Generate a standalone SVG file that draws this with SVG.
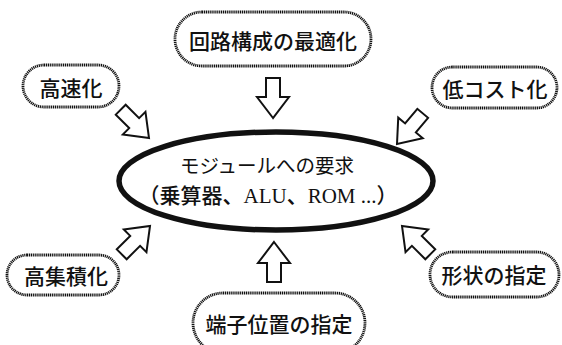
<svg xmlns="http://www.w3.org/2000/svg" width="562" height="345" viewBox="0 0 562 345">
<style>
.box{fill:#fff;stroke:#111;stroke-width:2.8;stroke-dasharray:1.2 0.7}
.lbl{font-family:"Noto Sans CJK JP",sans-serif;font-size:21px;font-weight:500;fill:#111;text-anchor:middle;dominant-baseline:central}
.arr{fill:#fff;stroke:#111;stroke-width:2;stroke-linejoin:miter}
.core{fill:#fff;stroke:#111;stroke-width:5.5}
.ctext{font-family:"Liberation Serif","Noto Sans CJK JP",serif;fill:#111;text-anchor:middle;dominant-baseline:central}
</style>
<defs>
<path id="ar" d="M0,0 L-16,-21 L-7,-21 L-7,-40 L7,-40 L7,-21 L16,-21 Z"/>
</defs>
<rect width="562" height="345" fill="#fff"/>
<g id="connectors">
<use href="#ar" class="arr" transform="translate(273,118)"/>
<use href="#ar" class="arr" transform="translate(274,242) rotate(180)"/>
<use href="#ar" class="arr" transform="translate(149,138) rotate(-45)"/>
<use href="#ar" class="arr" transform="translate(397,144) rotate(40)"/>
<use href="#ar" class="arr" transform="translate(150,226) rotate(-135)"/>
<use href="#ar" class="arr" transform="translate(402,226) rotate(135)"/>
</g>
<g id="center">
<ellipse class="core" cx="276" cy="181" rx="157" ry="49"/>
<text class="ctext" x="267" y="166" font-size="19.5" font-weight="400" font-family="Noto Sans CJK JP, sans-serif">モジュールへの要求</text>
<text class="ctext" x="268" y="196" font-size="21" font-weight="500">（乗算器、ALU、ROM ...）</text>
</g>
<g id="n-top">
<rect class="box" x="175" y="12" width="196" height="54" rx="27"/>
<text class="lbl" x="273" y="40">回路構成の最適化</text>
</g>
<g id="n-speed">
<rect class="box" x="23" y="65" width="96" height="42" rx="21"/>
<text class="lbl" x="71" y="87" font-size="22">高速化</text>
</g>
<g id="n-cost">
<rect class="box" x="432" y="67" width="125" height="41" rx="20.5"/>
<text class="lbl" x="495" y="88">低コスト化</text>
</g>
<g id="n-integ">
<rect class="box" x="7" y="255" width="112" height="40" rx="20"/>
<text class="lbl" x="66" y="275">高集積化</text>
</g>
<g id="n-shape">
<rect class="box" x="430" y="252" width="129" height="45" rx="22.5"/>
<text class="lbl" x="494" y="274" font-size="22">形状の指定</text>
</g>
<g id="n-term">
<rect class="box" x="193" y="293" width="172" height="60" rx="30"/>
<text class="lbl" x="279" y="323">端子位置の指定</text>
</g>
</svg>
